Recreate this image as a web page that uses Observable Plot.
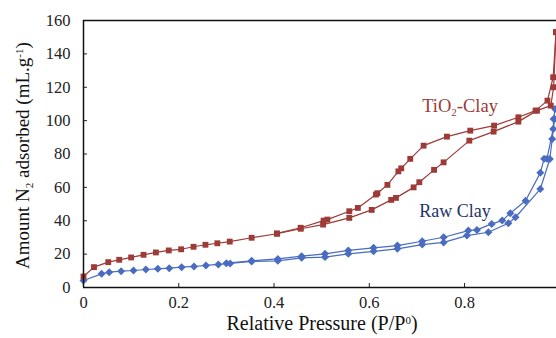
<!DOCTYPE html>
<html>
<head>
<meta charset="utf-8">
<script src="https://cdn.jsdelivr.net/npm/d3@7"></script>
<script src="https://cdn.jsdelivr.net/npm/@observablehq/plot@0.6"></script>
<style>
html,body{margin:0;padding:0;background:#fff;}
#chart svg, #chart text { font-family: 'Liberation Serif', 'Times New Roman', serif !important; }
</style>
</head>
<body>
<div id="chart"></div>
<script>
// TiO2-Clay adsorption branch
const tioAdsX = [0.0, 0.022, 0.052, 0.075, 0.10, 0.126, 0.152, 0.179, 0.205, 0.231, 0.256, 0.281, 0.307, 0.353, 0.406, 0.456, 0.503, 0.558, 0.605, 0.646, 0.656, 0.693, 0.705, 0.736, 0.756, 0.81, 0.861, 0.913, 0.952, 0.981, 0.987, 0.992];
const tioAdsY = [6.6, 12.2, 15.2, 16.6, 18.0, 19.6, 21.0, 22.2, 22.9, 24.4, 25.6, 26.5, 27.5, 29.8, 32.2, 35.2, 37.7, 41.7, 46.5, 52.5, 53.7, 60.0, 63.1, 70.5, 75.0, 88.0, 93.4, 99.4, 106.0, 109.0, 120.0, 153.0];
// TiO2-Clay desorption branch
const tioDesX = [0.992, 0.986, 0.974, 0.949, 0.913, 0.862, 0.812, 0.763, 0.714, 0.686, 0.667, 0.661, 0.638, 0.617, 0.614, 0.576, 0.558, 0.512, 0.504, 0.456, 0.406];
const tioDesY = [153.0, 126.0, 112.0, 106.0, 102.0, 97.0, 94.0, 90.4, 85.0, 77.1, 71.4, 69.6, 61.5, 56.5, 55.7, 47.7, 45.7, 40.7, 40.1, 35.8, 32.4];
// Raw Clay adsorption branch
const rawAdsX = [0.0, 0.038, 0.054, 0.079, 0.105, 0.131, 0.156, 0.18, 0.206, 0.232, 0.257, 0.283, 0.308, 0.353, 0.408, 0.458, 0.507, 0.556, 0.609, 0.659, 0.711, 0.756, 0.805, 0.85, 0.892, 0.907, 0.959, 0.979, 0.984, 0.989];
const rawAdsY = [4.2, 8.2, 9.2, 9.8, 10.2, 10.8, 11.2, 11.6, 12.2, 12.6, 13.2, 13.8, 14.4, 15.6, 16.0, 17.8, 18.2, 20.2, 21.7, 23.2, 25.7, 27.0, 31.1, 33.1, 38.5, 42.1, 59.0, 77.0, 89.0, 101.0];
// Raw Clay desorption branch
const rawDesX = [0.99, 0.987, 0.986, 0.973, 0.967, 0.959, 0.928, 0.896, 0.879, 0.857, 0.826, 0.808, 0.756, 0.711, 0.659, 0.609, 0.556, 0.507, 0.458, 0.408, 0.353, 0.30];
const rawDesY = [107.0, 101.0, 95.0, 77.1, 77.1, 68.7, 52.0, 44.5, 40.1, 38.1, 34.5, 34.1, 30.1, 27.7, 25.1, 23.8, 22.2, 20.2, 18.8, 17.1, 16.0, 14.6];

const xTicks = [0, 0.2, 0.4, 0.6, 0.8];
const yTicks = [0, 20, 40, 60, 80, 100, 120, 140, 160];
const xLabel = "Relative Pressure (P/P⁰)";
const yLabel = "Amount N₂ adsorbed (mL.g⁻¹)";
const seriesLabels = ["TiO₂-Clay", "Raw Clay"];

const red = "#9c3b37";
const blue = "#4a6cc0";
const serif = "'Liberation Serif', 'Times New Roman', serif";

const toRows = (xs, ys) => xs.map((x, i) => ({x, y: ys[i]}));
const tioAds = toRows(tioAdsX, tioAdsY);
const tioDes = toRows(tioDesX, tioDesY);
const rawAds = toRows(rawAdsX, rawAdsY);
const rawDes = toRows(rawDesX, rawDesY);

const chart = Plot.plot({
  width: 556,
  height: 338,
  marginLeft: 83,
  marginRight: 0,
  marginTop: 20,
  marginBottom: 51,
  style: {fontFamily: serif, fontSize: "16px", color: "#222", background: "#fff"},
  x: {domain: [0, 0.993]},
  y: {domain: [0, 160]},
  marks: [
    Plot.axisX({ticks: xTicks, tickSize: -4, tickPadding: 13, tickFormat: d => d === 0 ? "0" : d3.format(".1f")(d), label: null, fontSize: 16.5, fontFamily: serif, fill: "#222", stroke: "#222"}),
    Plot.axisY({ticks: yTicks, tickSize: -4, tickPadding: 17, label: null, fontSize: 16.5, fontFamily: serif, fill: "#222", stroke: "#222"}),
    Plot.text([xLabel], {frameAnchor: "bottom-left", dy: 42.5, dx: 143, fontSize: 20, fontFamily: serif, fill: "#111", textAnchor: "start"}),
    Plot.text([yLabel], {frameAnchor: "left", rotate: -90, dx: -61, dy: 115, fontSize: 19, fontFamily: serif, fill: "#111", textAnchor: "start"}),
    Plot.line(rawAds, {x: "x", y: "y", stroke: blue, strokeWidth: 1.2}),
    Plot.line(rawDes, {x: "x", y: "y", stroke: blue, strokeWidth: 1.2}),
    Plot.dot(rawAds, {x: "x", y: "y", symbol: "diamond2", r: 3.6, fill: blue, stroke: "none"}),
    Plot.dot(rawDes, {x: "x", y: "y", symbol: "diamond2", r: 3.6, fill: blue, stroke: "none"}),
    Plot.line(tioAds, {x: "x", y: "y", stroke: red, strokeWidth: 1.2}),
    Plot.line(tioDes, {x: "x", y: "y", stroke: red, strokeWidth: 1.2}),
    Plot.dot(tioAds, {x: "x", y: "y", symbol: "square", r: 3.3, fill: red, stroke: "none"}),
    Plot.dot(tioDes, {x: "x", y: "y", symbol: "square", r: 3.3, fill: red, stroke: "none"}),
    Plot.ruleX([0], {stroke: "#111", strokeWidth: 1.5}),
    Plot.ruleY([0], {stroke: "#111", strokeWidth: 1.5}),
    Plot.ruleY([160], {stroke: "#111", strokeWidth: 1.5}),
    Plot.text([seriesLabels[0]], {x: 0.711, y: 109, fill: red, fontSize: 18.5, fontFamily: serif, textAnchor: "start"}),
    Plot.text([seriesLabels[1]], {x: 0.78, y: 45.5, fill: "#1f3566", fontSize: 18, fontFamily: serif, textAnchor: "middle"})
  ]
});

// Render sub/superscripts with tspans
const scripts = {"₂": ["2", 0.25], "⁰": ["0", -0.35], "⁻¹": ["-1", -0.35]};
chart.querySelectorAll("text").forEach(t => {
  const s = t.textContent;
  if (!/[₂⁰⁻¹]/.test(s)) return;
  const fs = parseFloat(t.getAttribute("font-size")) || 16;
  const parts = s.split(/(₂|⁰|⁻¹)/).filter(p => p !== "");
  while (t.firstChild) t.removeChild(t.firstChild);
  let shift = 0;
  const ns = "http://www.w3.org/2000/svg";
  parts.forEach(p => {
    const ts = document.createElementNS(ns, "tspan");
    if (scripts[p]) {
      const sh = scripts[p][1] * fs;
      ts.textContent = scripts[p][0];
      ts.setAttribute("dy", String(sh - shift));
      ts.setAttribute("font-size", String(Math.round(fs * 0.66)));
      shift = sh;
    } else {
      ts.textContent = p;
      if (shift !== 0) ts.setAttribute("dy", String(-shift));
      shift = 0;
    }
    t.appendChild(ts);
  });
});
document.getElementById("chart").appendChild(chart);
</script>
</body>
</html>
